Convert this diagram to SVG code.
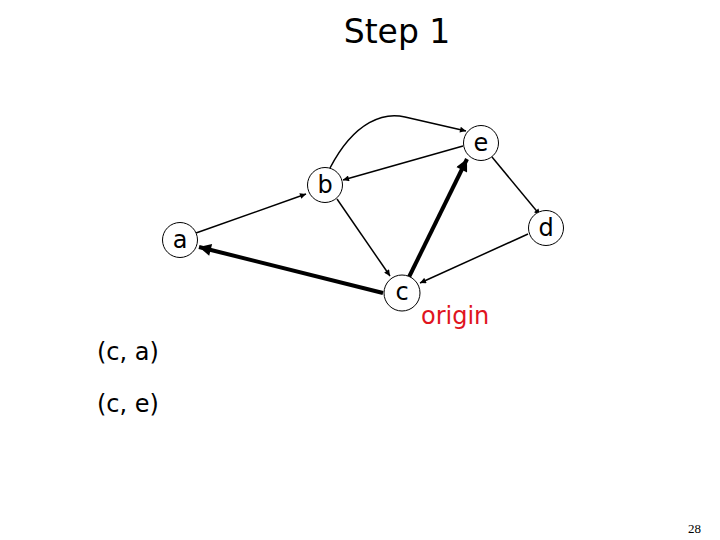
<svg xmlns="http://www.w3.org/2000/svg" width="720" height="540" viewBox="0 0 720 540">
<style>
.n circle{fill:#fff;stroke:#000;stroke-width:1}
.n text,.t{font-family:"DejaVu Sans",sans-serif;fill:#000}
.n text{font-size:24px;text-anchor:middle}
.e{stroke:#000;fill:none;stroke-width:1.5}
.th{stroke-width:4}
</style>
<defs>
<marker id="ah" viewBox="0 0 10 10" refX="10" refY="5" markerWidth="7" markerHeight="6" markerUnits="userSpaceOnUse" orient="auto"><path d="M0,0L10,5L0,10z" fill="#000"/></marker>
<marker id="ahb" viewBox="0 0 10 10" refX="10" refY="5" markerWidth="16" markerHeight="12" markerUnits="userSpaceOnUse" orient="auto"><path d="M0,0L10,5L0,10z" fill="#000"/></marker>
</defs>
<rect width="720" height="540" fill="#fff"/>
<text class="t" x="397" y="43" font-size="33" text-anchor="middle">Step 1</text>
<g id="connectors">
<path class="e" d="M196,233 L306,194" marker-end="url(#ah)"/>
<path class="e" d="M330,168 C355,120 385,112 405,117 L466,131" marker-end="url(#ah)"/>
<path class="e" d="M463,146 L343,180" marker-end="url(#ah)"/>
<path class="e" d="M337,199 L390,276" marker-end="url(#ah)"/>
<path class="e th" d="M409,277 L467,159" marker-end="url(#ahb)"/>
<path class="e" d="M492,157 L540,215" marker-end="url(#ah)"/>
<path class="e" d="M528,234 L420,283" marker-end="url(#ah)"/>
<path class="e th" d="M383,293 L199,247" marker-end="url(#ahb)"/>
</g>
<g id="a" class="n"><circle cx="180" cy="240" r="17.5"/><text x="180" y="248">a</text></g>
<g id="b" class="n"><circle cx="325" cy="185" r="17.5"/><text x="325" y="193">b</text></g>
<g id="e" class="n"><circle cx="481" cy="143" r="17.5"/><text x="481" y="151">e</text></g>
<g id="d" class="n"><circle cx="546" cy="228" r="17.5"/><text x="546" y="236">d</text></g>
<g id="c" class="n"><circle cx="402" cy="293" r="18"/><text x="402" y="300">c</text></g>
<text class="t" x="421" y="324" font-size="24" style="fill:#e0141e">origin</text>
<text class="t" x="97" y="360" font-size="24">(c, a)</text>
<text class="t" x="97" y="412" font-size="24">(c, e)</text>
<text x="688" y="533" font-size="13" font-family="Liberation Serif,serif">28</text>
</svg>
